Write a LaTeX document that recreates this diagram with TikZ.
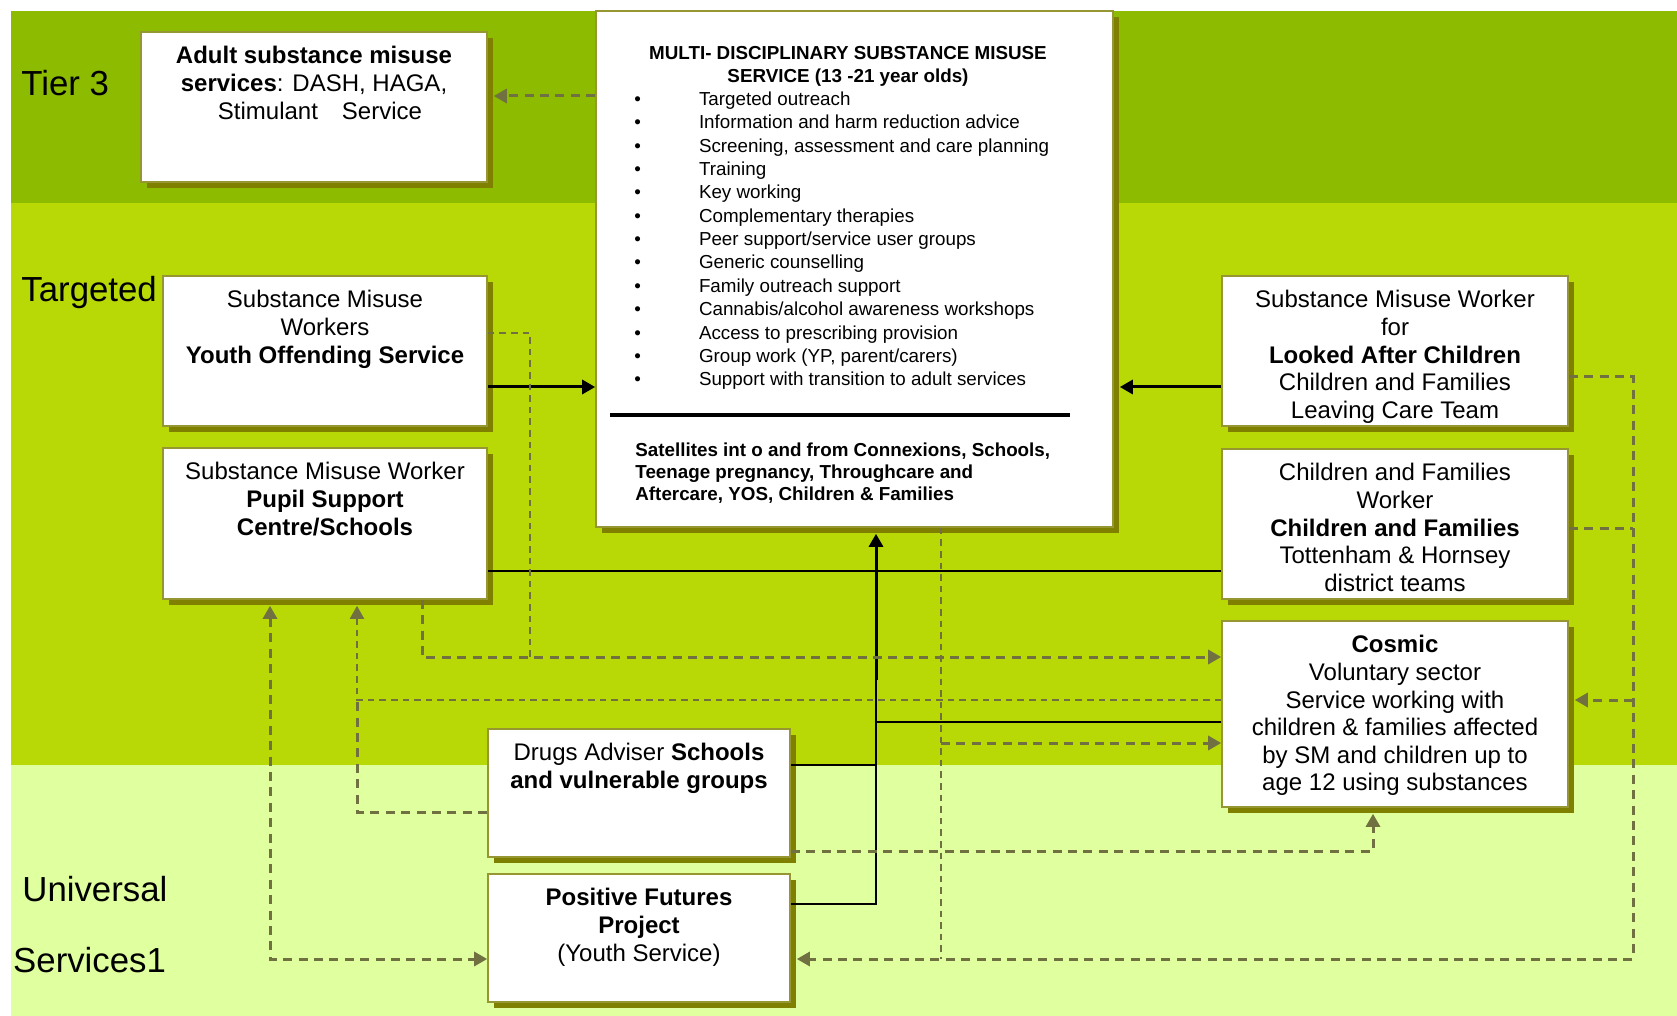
\documentclass[tikz,border=0pt]{standalone}
\usepackage{fontspec}
\setmainfont{Liberation Sans}
\usetikzlibrary{arrows.meta,shadows}
\definecolor{tierthree}{RGB}{140,187,0}
\definecolor{targeted}{RGB}{184,217,5}
\definecolor{universal}{RGB}{224,255,159}
\definecolor{boxedge}{RGB}{150,150,50}
\definecolor{boxshadow}{RGB}{128,128,0}
\definecolor{linkcol}{RGB}{112,112,64}

\begin{document}
\begin{tikzpicture}[x=0.5pt,y=-0.5pt,
  >={Triangle[length=6.5pt,width=7pt]},
  box/.style={rectangle, draw=boxedge, line width=0.8pt, fill=white, inner sep=0pt,
    drop shadow={shadow xshift=3pt, shadow yshift=-3pt, fill=boxshadow, opacity=1}},
  boxtext/.style={anchor=north, align=center, inner sep=0pt, yshift=-7.5pt,
    font=\fontsize{12pt}{13.8pt}\selectfont},
  bandlabel/.style={anchor=base west, inner sep=0pt, font=\fontsize{17.4pt}{20pt}\selectfont},
  listtext/.style={inner sep=0pt, align=left},
  solidarrow/.style={line width=1.5pt},
  thinline/.style={line width=0.7pt},
  flowdash/.style={linkcol, line width=1.5pt, dash pattern=on 4.5pt off 3.2pt},
  thindash/.style={linkcol, line width=1pt, dash pattern=on 3.3pt off 2.5pt},
  shadowend/.style={shorten >=3pt},
  shadowstart/.style={shorten <=3pt}]
\useasboundingbox (0,0) rectangle (1677,1016);
% bands
\fill[tierthree] (10.7,10.7) rectangle (1677,203);
\fill[targeted] (10.7,203) rectangle (1677,765);
\fill[universal] (10.7,765) rectangle (1677,1016);
% band labels
\node (tier) at (21,95.7) [bandlabel] {Tier 3};
\node (target) at (21,301.6) [bandlabel] {Targeted};
\node (univ) at (22,901.6) [bandlabel] {Universal};
\node (serv) at (12.8,972.5) [bandlabel] {Services1};
% boxes
\node (adult) at (314,107) [box, minimum width=173pt, minimum height=75pt] {};
\node (multi) at (854.5,269) [box, minimum width=258.5pt, minimum height=258pt] {};
\node (yos) at (325,351) [box, minimum width=162pt, minimum height=75pt] {};
\node (pupil) at (325,523.5) [box, minimum width=162pt, minimum height=75.5pt] {};
\node (lac) at (1395,351) [box, minimum width=173pt, minimum height=75pt] {};
\node (cf) at (1395,524) [box, minimum width=173pt, minimum height=75pt] {};
\node (cosmic) at (1395,714) [box, minimum width=173pt, minimum height=93pt] {};
\node (drugs) at (639,793) [box, minimum width=151pt, minimum height=64pt] {};
\node (positive) at (639,938) [box, minimum width=151pt, minimum height=64pt] {};
% box texts
\node (adulttext) at (adult.north) [boxtext] {\textbf{Adult substance misuse}\\\textbf{services}: DASH, HAGA,\\\hspace{6pt}Stimulant\hspace{12pt}Service};
\node (yostext) at (yos.north) [boxtext] {Substance Misuse\\Workers\\\textbf{Youth Offending Service}};
\node (pupiltext) at (pupil.north) [boxtext] {Substance Misuse Worker\\\textbf{Pupil Support}\\\textbf{Centre/Schools}};
\node (lactext) at (lac.north) [boxtext] {Substance Misuse Worker\\for\\\textbf{Looked After Children}\\Children and Families\\Leaving Care Team};
\node (cftext) at (cf.north) [boxtext] {Children and Families\\Worker\\\textbf{Children and Families}\\Tottenham \& Hornsey\\district teams};
\node (cosmictext) at (cosmic.north) [boxtext] {\textbf{Cosmic}\\Voluntary sector\\Service working with\\children \& families affected\\by SM and children up to\\age 12 using substances};
\node (drugstext) at (drugs.north) [boxtext] {Drugs Adviser \textbf{Schools}\\\textbf{and vulnerable groups}};
\node (positivetext) at (positive.north) [boxtext] {\textbf{Positive Futures}\\\textbf{Project}\\(Youth Service)};
% multi-disciplinary service contents
\node (multititle) at (848,45.5) [anchor=north, align=center, inner sep=0pt, font=\bfseries\fontsize{9.4pt}{11.5pt}\selectfont] {MULTI- DISCIPLINARY SUBSTANCE MISUSE\\SERVICE (13 -21 year olds)};
\node (multilist) at (634,91.4) [listtext, anchor=north west, font=\fontsize{9.4pt}{11.68pt}\selectfont] {%
\makebox[32.3pt][l]{\textbullet}Targeted outreach\\
\makebox[32.3pt][l]{\textbullet}Information and harm reduction advice\\
\makebox[32.3pt][l]{\textbullet}Screening, assessment and care planning\\
\makebox[32.3pt][l]{\textbullet}Training\\
\makebox[32.3pt][l]{\textbullet}Key working\\
\makebox[32.3pt][l]{\textbullet}Complementary therapies\\
\makebox[32.3pt][l]{\textbullet}Peer support/service user groups\\
\makebox[32.3pt][l]{\textbullet}Generic counselling\\
\makebox[32.3pt][l]{\textbullet}Family outreach support\\
\makebox[32.3pt][l]{\textbullet}Cannabis/alcohol awareness workshops\\
\makebox[32.3pt][l]{\textbullet}Access to prescribing provision\\
\makebox[32.3pt][l]{\textbullet}Group work (YP, parent/carers)\\
\makebox[32.3pt][l]{\textbullet}Support with transition to adult services};
\draw[line width=1.6pt] (610,415) -- (1070,415);
\node (satellites) at (635,442) [listtext, anchor=north west, font=\bfseries\fontsize{9.4pt}{11pt}\selectfont] {Satellites int o and from Connexions, Schools,\\Teenage pregnancy, Throughcare and\\Aftercare, YOS, Children \& Families};
% solid lines
\draw[solidarrow,->] (yos.east |- 0,387) -- (multi.west |- 0,387);
\draw[solidarrow,->,shadowend] (lac.west |- 0,387) -- (multi.east |- 0,387);
\draw[thinline] (pupil.east |- 0,571) -- (cf.west |- 0,571);
\draw[thinline] (positive.east |- 0,904) -| (876,680);
\draw[thinline] (drugs.east |- 0,765) -- (876,765);
\draw[thinline] (cosmic.west |- 0,722) -- (876,722);
\draw[solidarrow,->,shadowend] (876,680) -- (multi.south -| 876,0);
% dashed lines
\draw[flowdash,->,shadowend] (multi.west |- 0,96) -- (adult.east |- 0,96);
\draw[thindash] (yos.east |- 0,333) -| (530,657);
\draw[flowdash,->] (pupil.south -| 422,0) |- (cosmic.west |- 0,657);
\draw[thindash,->,shadowend] (cosmic.west |- 0,700) -| (pupil.south -| 357,0);
\draw[flowdash] (drugs.west |- 0,812) -| (357,700);
\draw[flowdash,<->,shadowstart] (pupil.south -| 270,0) |- (positive.west |- 0,959);
\draw[flowdash,->,shadowend] (lac.east |- 0,377) -| (1633,959) -- (positive.east |- 0,959);
\draw[flowdash] (cf.east |- 0,528) -- (1633,528);
\draw[flowdash,->,shadowend] (1633,700) -- (cosmic.east |- 0,700);
\draw[thindash] (multi.south -| 941,0) -- (941,959);
\draw[flowdash,->] (941,743) -- (cosmic.west |- 0,743);
\draw[flowdash,->,shadowend] (drugs.east |- 0,851) -| (cosmic.south -| 1373,0);
\end{tikzpicture}
\end{document}
